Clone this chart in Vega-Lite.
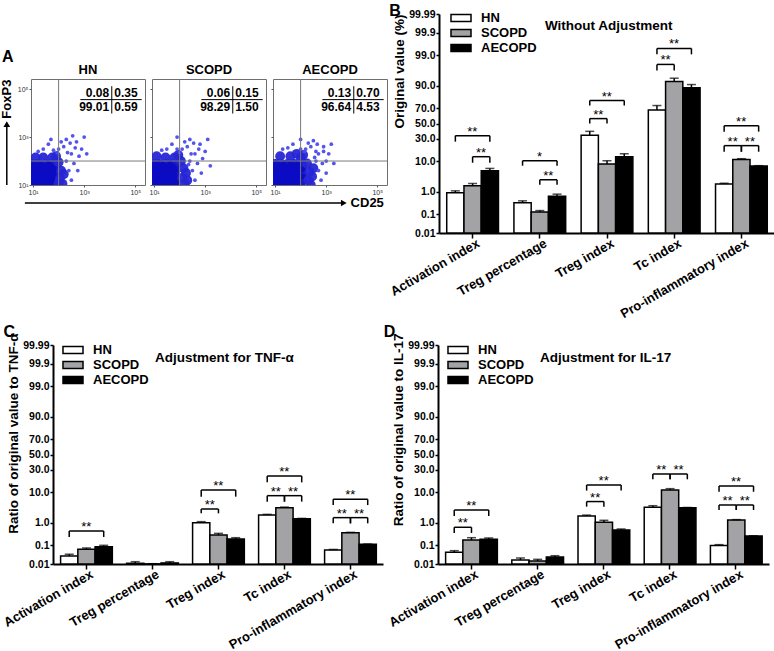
{
"$schema": "https://vega.github.io/schema/vega-lite/v6.json",
"background": "white",
"padding": {"left": 0, "top": 3, "right": 0, "bottom": 0},
"config": {"view": {"stroke": null}, "font": "Liberation Sans", "title": {"color": "black", "font": "Liberation Sans"}, "axis": {"labelFont": "Liberation Sans", "titleFont": "Liberation Sans", "labelOverlap": false}, "legend": {"labelFont": "Liberation Sans", "titleFont": "Liberation Sans"}},
"resolve": {"scale": {"fill": "independent"}, "legend": {"fill": "independent"}},
"datasets": {
"bars": [
{"panel":"B","g":"Activation index","s":"HN","v":0.93,"hi":1.11},
{"panel":"B","g":"Activation index","s":"SCOPD","v":1.72,"hi":2.08},
{"panel":"B","g":"Activation index","s":"AECOPD","v":5.43,"hi":6.35},
{"panel":"B","g":"Treg percentage","s":"HN","v":0.352,"hi":0.431},
{"panel":"B","g":"Treg percentage","s":"SCOPD","v":0.134,"hi":0.155},
{"panel":"B","g":"Treg percentage","s":"AECOPD","v":0.68,"hi":0.82},
{"panel":"B","g":"Treg index","s":"HN","v":34.4,"hi":39.5},
{"panel":"B","g":"Treg index","s":"SCOPD","v":8.44,"hi":10.3},
{"panel":"B","g":"Treg index","s":"AECOPD","v":12.97,"hi":15.2},
{"panel":"B","g":"Tc index","s":"HN","v":67.8,"hi":72.9},
{"panel":"B","g":"Tc index","s":"SCOPD","v":92.3,"hi":93.8},
{"panel":"B","g":"Tc index","s":"AECOPD","v":88.7,"hi":90.7},
{"panel":"B","g":"Pro-inflammatory index","s":"HN","v":1.98,"hi":2.12},
{"panel":"B","g":"Pro-inflammatory index","s":"SCOPD","v":11.1,"hi":11.6},
{"panel":"B","g":"Pro-inflammatory index","s":"AECOPD","v":7.43,"hi":7.6},
{"panel":"C","g":"Activation index","s":"HN","v":0.0284,"hi":0.035},
{"panel":"C","g":"Activation index","s":"SCOPD","v":0.064,"hi":0.075},
{"panel":"C","g":"Activation index","s":"AECOPD","v":0.087,"hi":0.102},
{"panel":"C","g":"Treg percentage","s":"HN","v":0.011,"hi":0.0136},
{"panel":"C","g":"Treg percentage","s":"SCOPD","v":0.0102,"hi":0.0104},
{"panel":"C","g":"Treg percentage","s":"AECOPD","v":0.0115,"hi":0.0136},
{"panel":"C","g":"Treg index","s":"HN","v":1.03,"hi":1.13},
{"panel":"C","g":"Treg index","s":"SCOPD","v":0.314,"hi":0.37},
{"panel":"C","g":"Treg index","s":"AECOPD","v":0.206,"hi":0.236},
{"panel":"C","g":"Tc index","s":"HN","v":2.0,"hi":2.1},
{"panel":"C","g":"Tc index","s":"SCOPD","v":3.55,"hi":3.7},
{"panel":"C","g":"Tc index","s":"AECOPD","v":1.46,"hi":1.5},
{"panel":"C","g":"Pro-inflammatory index","s":"HN","v":0.059,"hi":0.063},
{"panel":"C","g":"Pro-inflammatory index","s":"SCOPD","v":0.397,"hi":0.41},
{"panel":"C","g":"Pro-inflammatory index","s":"AECOPD","v":0.114,"hi":0.118},
{"panel":"D","g":"Activation index","s":"HN","v":0.0449,"hi":0.0545},
{"panel":"D","g":"Activation index","s":"SCOPD","v":0.185,"hi":0.236},
{"panel":"D","g":"Activation index","s":"AECOPD","v":0.199,"hi":0.229},
{"panel":"D","g":"Treg percentage","s":"HN","v":0.017,"hi":0.022},
{"panel":"D","g":"Treg percentage","s":"SCOPD","v":0.015,"hi":0.0185},
{"panel":"D","g":"Treg percentage","s":"AECOPD","v":0.025,"hi":0.0294},
{"panel":"D","g":"Treg index","s":"HN","v":1.84,"hi":1.98},
{"panel":"D","g":"Treg index","s":"SCOPD","v":1.07,"hi":1.27},
{"panel":"D","g":"Treg index","s":"AECOPD","v":0.52,"hi":0.57},
{"panel":"D","g":"Tc index","s":"HN","v":3.64,"hi":4.1},
{"panel":"D","g":"Tc index","s":"SCOPD","v":11.4,"hi":12.3},
{"panel":"D","g":"Tc index","s":"AECOPD","v":3.55,"hi":3.6},
{"panel":"D","g":"Pro-inflammatory index","s":"HN","v":0.1,"hi":0.11},
{"panel":"D","g":"Pro-inflammatory index","s":"SCOPD","v":1.31,"hi":1.35},
{"panel":"D","g":"Pro-inflammatory index","s":"AECOPD","v":0.283,"hi":0.29}
],
"br": [
{"panel":"B","id":"B1","g":"Activation index","s1":"HN","s2":"AECOPD","top":34.0,"leg":26.9,"lab":"**"},
{"panel":"B","id":"B2","g":"Activation index","s1":"SCOPD","s2":"AECOPD","top":12.97,"leg":9.14,"lab":"**"},
{"panel":"B","id":"B3","g":"Treg percentage","s1":"HN","s2":"AECOPD","top":10.3,"leg":7.58,"lab":"*"},
{"panel":"B","id":"B4","g":"Treg percentage","s1":"SCOPD","s2":"AECOPD","top":2.8,"leg":1.87,"lab":"**"},
{"panel":"B","id":"B5","g":"Treg index","s1":"HN","s2":"AECOPD","top":78.2,"leg":72.9,"lab":"**"},
{"panel":"B","id":"B6","g":"Treg index","s1":"HN","s2":"SCOPD","top":56.6,"leg":49.9,"lab":"**"},
{"panel":"B","id":"B7","g":"Tc index","s1":"HN","s2":"AECOPD","top":99.46,"leg":99.06,"lab":"**"},
{"panel":"B","id":"B8","g":"Tc index","s1":"HN","s2":"SCOPD","top":97.76,"leg":96.4,"lab":"**"},
{"panel":"B","id":"B9","g":"Pro-inflammatory index","s1":"HN","s2":"AECOPD","top":47.1,"leg":39.1,"lab":"**"},
{"panel":"B","id":"B10","g":"Pro-inflammatory index","s1":"HN","s2":"SCOPD","top":22.6,"leg":16.9,"lab":"**"},
{"panel":"B","id":"B11","g":"Pro-inflammatory index","s1":"SCOPD","s2":"AECOPD","top":22.6,"leg":16.9,"lab":"**"},
{"panel":"C","id":"C1","g":"Activation index","s1":"HN","s2":"AECOPD","top":0.469,"leg":0.255,"lab":"**"},
{"panel":"C","id":"C2","g":"Treg index","s1":"HN","s2":"AECOPD","top":11.4,"leg":7.6,"lab":"**"},
{"panel":"C","id":"C3","g":"Treg index","s1":"HN","s2":"SCOPD","top":3.21,"leg":2.29,"lab":"**"},
{"panel":"C","id":"C4","g":"Tc index","s1":"HN","s2":"AECOPD","top":23.3,"leg":17.2,"lab":"**"},
{"panel":"C","id":"C5","g":"Tc index","s1":"HN","s2":"SCOPD","top":8.1,"leg":5.47,"lab":"**"},
{"panel":"C","id":"C6","g":"Tc index","s1":"SCOPD","s2":"AECOPD","top":8.1,"leg":5.47,"lab":"**"},
{"panel":"C","id":"C7","g":"Pro-inflammatory index","s1":"HN","s2":"AECOPD","top":6.4,"leg":4.3,"lab":"**"},
{"panel":"C","id":"C8","g":"Pro-inflammatory index","s1":"HN","s2":"SCOPD","top":1.6,"leg":0.97,"lab":"**"},
{"panel":"C","id":"C9","g":"Pro-inflammatory index","s1":"SCOPD","s2":"AECOPD","top":1.6,"leg":0.97,"lab":"**"},
{"panel":"D","id":"D1","g":"Activation index","s1":"HN","s2":"AECOPD","top":2.97,"leg":1.84,"lab":"**"},
{"panel":"D","id":"D2","g":"Activation index","s1":"HN","s2":"SCOPD","top":0.672,"leg":0.385,"lab":"**"},
{"panel":"D","id":"D3","g":"Treg index","s1":"HN","s2":"AECOPD","top":15.0,"leg":11.0,"lab":"**"},
{"panel":"D","id":"D4","g":"Treg index","s1":"HN","s2":"SCOPD","top":5.5,"leg":3.83,"lab":"**"},
{"panel":"D","id":"D5","g":"Tc index","s1":"HN","s2":"SCOPD","top":25.4,"leg":20.0,"lab":"**"},
{"panel":"D","id":"D6","g":"Tc index","s1":"SCOPD","s2":"AECOPD","top":25.4,"leg":20.0,"lab":"**"},
{"panel":"D","id":"D7","g":"Pro-inflammatory index","s1":"HN","s2":"AECOPD","top":14.2,"leg":10.3,"lab":"**"},
{"panel":"D","id":"D8","g":"Pro-inflammatory index","s1":"HN","s2":"SCOPD","top":4.32,"leg":2.97,"lab":"**"},
{"panel":"D","id":"D9","g":"Pro-inflammatory index","s1":"SCOPD","s2":"AECOPD","top":4.32,"leg":2.97,"lab":"**"}
],
"quad": [
{"p":"HN","ul":"0.08","ur":"0.35","ll":"99.01","lr":"0.59"},
{"p":"SCOPD","ul":"0.06","ur":"0.15","ll":"98.29","lr":"1.50"},
{"p":"AECOPD","ul":"0.13","ur":"0.70","ll":"96.64","lr":"4.53"}
],
"dots": [
{"p":"HN","x":1.2,"y":1.2,"k":"c"},{"p":"HN","x":1.5,"y":1.2,"k":"c"},{"p":"HN","x":1.75,"y":1.2,"k":"c"},
{"p":"HN","x":1.2,"y":1.5,"k":"c"},{"p":"HN","x":1.5,"y":1.5,"k":"c"},{"p":"HN","x":1.75,"y":1.5,"k":"c"},
{"p":"HN","x":1.2,"y":1.8,"k":"c"},{"p":"HN","x":1.5,"y":1.8,"k":"c"},{"p":"HN","x":1.75,"y":1.8,"k":"c"},
{"p":"HN","x":1.35,"y":1.35,"k":"c"},{"p":"HN","x":1.65,"y":1.35,"k":"c"},{"p":"HN","x":1.35,"y":1.65,"k":"c"},{"p":"HN","x":1.65,"y":1.65,"k":"c"},
{"p":"HN","x":1.0,"y":1.2,"k":"c"},{"p":"HN","x":1.0,"y":1.5,"k":"c"},{"p":"HN","x":1.0,"y":1.8,"k":"c"},
{"p":"HN","x":1.2,"y":1.0,"k":"c"},{"p":"HN","x":1.5,"y":1.0,"k":"c"},{"p":"HN","x":1.75,"y":1.0,"k":"c"},
{"p":"HN","x":2.05,"y":1.25,"k":"m"},{"p":"HN","x":2.1,"y":1.6,"k":"m"},{"p":"HN","x":2.0,"y":1.95,"k":"m"},{"p":"HN","x":1.75,"y":2.15,"k":"m"},{"p":"HN","x":1.4,"y":2.15,"k":"m"},
{"p":"HN","x":1.1,"y":2.15,"k":"m"},{"p":"HN","x":2.15,"y":1.05,"k":"m"},{"p":"HN","x":2.2,"y":1.45,"k":"m"},{"p":"HN","x":1.9,"y":2.2,"k":"m"},{"p":"HN","x":2.0,"y":1.05,"k":"m"},
{"p":"HN","x":2.3,"y":2.0,"k":"s"},{"p":"HN","x":2.5,"y":2.3,"k":"s"},{"p":"HN","x":2.2,"y":2.6,"k":"s"},{"p":"HN","x":2.7,"y":2.8,"k":"s"},{"p":"HN","x":2.0,"y":2.5,"k":"s"},
{"p":"HN","x":2.4,"y":1.6,"k":"s"},{"p":"HN","x":2.6,"y":1.9,"k":"s"},{"p":"HN","x":1.8,"y":2.45,"k":"s"},{"p":"HN","x":2.9,"y":2.5,"k":"s"},{"p":"HN","x":2.3,"y":2.9,"k":"s"},
{"p":"HN","x":1.6,"y":2.7,"k":"s"},{"p":"HN","x":2.5,"y":1.2,"k":"s"},{"p":"HN","x":2.8,"y":2.2,"k":"s"},{"p":"HN","x":2.1,"y":2.8,"k":"s"},{"p":"HN","x":3.0,"y":3.0,"k":"s"},
{"p":"HN","x":1.4,"y":2.5,"k":"s"},{"p":"HN","x":2.65,"y":2.55,"k":"s"},{"p":"HN","x":2.35,"y":2.35,"k":"s"},{"p":"HN","x":1.95,"y":2.35,"k":"s"},{"p":"HN","x":2.75,"y":1.6,"k":"s"},
{"p":"HN","x":1.2,"y":2.4,"k":"s"},{"p":"HN","x":2.45,"y":2.75,"k":"s"},{"p":"HN","x":2.55,"y":3.05,"k":"s"},{"p":"HN","x":3.1,"y":2.3,"k":"s"},{"p":"HN","x":1.7,"y":2.9,"k":"s"},
{"p":"SCOPD","x":1.2,"y":1.2,"k":"c"},{"p":"SCOPD","x":1.5,"y":1.2,"k":"c"},{"p":"SCOPD","x":1.75,"y":1.2,"k":"c"},
{"p":"SCOPD","x":1.2,"y":1.5,"k":"c"},{"p":"SCOPD","x":1.5,"y":1.5,"k":"c"},{"p":"SCOPD","x":1.75,"y":1.5,"k":"c"},
{"p":"SCOPD","x":1.2,"y":1.8,"k":"c"},{"p":"SCOPD","x":1.5,"y":1.8,"k":"c"},{"p":"SCOPD","x":1.75,"y":1.8,"k":"c"},
{"p":"SCOPD","x":1.35,"y":1.35,"k":"c"},{"p":"SCOPD","x":1.65,"y":1.35,"k":"c"},{"p":"SCOPD","x":1.35,"y":1.65,"k":"c"},{"p":"SCOPD","x":1.65,"y":1.65,"k":"c"},
{"p":"SCOPD","x":1.0,"y":1.2,"k":"c"},{"p":"SCOPD","x":1.0,"y":1.5,"k":"c"},{"p":"SCOPD","x":1.0,"y":1.8,"k":"c"},
{"p":"SCOPD","x":1.2,"y":1.0,"k":"c"},{"p":"SCOPD","x":1.5,"y":1.0,"k":"c"},{"p":"SCOPD","x":1.75,"y":1.0,"k":"c"},
{"p":"SCOPD","x":2.1,"y":1.3,"k":"m"},{"p":"SCOPD","x":2.15,"y":1.7,"k":"m"},{"p":"SCOPD","x":2.05,"y":2.0,"k":"m"},{"p":"SCOPD","x":1.8,"y":2.15,"k":"m"},{"p":"SCOPD","x":1.45,"y":2.15,"k":"m"},
{"p":"SCOPD","x":1.1,"y":2.2,"k":"m"},{"p":"SCOPD","x":2.2,"y":1.05,"k":"m"},{"p":"SCOPD","x":2.25,"y":1.5,"k":"m"},{"p":"SCOPD","x":1.95,"y":2.25,"k":"m"},{"p":"SCOPD","x":2.3,"y":1.2,"k":"m"},
{"p":"SCOPD","x":2.4,"y":2.0,"k":"s"},{"p":"SCOPD","x":2.6,"y":2.3,"k":"s"},{"p":"SCOPD","x":2.3,"y":2.6,"k":"s"},{"p":"SCOPD","x":2.8,"y":2.7,"k":"s"},{"p":"SCOPD","x":2.1,"y":2.5,"k":"s"},
{"p":"SCOPD","x":2.5,"y":1.6,"k":"s"},{"p":"SCOPD","x":2.7,"y":1.9,"k":"s"},{"p":"SCOPD","x":1.9,"y":2.5,"k":"s"},{"p":"SCOPD","x":3.0,"y":2.4,"k":"s"},{"p":"SCOPD","x":2.4,"y":2.9,"k":"s"},
{"p":"SCOPD","x":1.7,"y":2.7,"k":"s"},{"p":"SCOPD","x":2.6,"y":1.2,"k":"s"},{"p":"SCOPD","x":2.9,"y":2.1,"k":"s"},{"p":"SCOPD","x":2.2,"y":2.8,"k":"s"},{"p":"SCOPD","x":3.1,"y":2.9,"k":"s"},
{"p":"SCOPD","x":1.5,"y":2.5,"k":"s"},{"p":"SCOPD","x":2.75,"y":2.5,"k":"s"},{"p":"SCOPD","x":2.45,"y":2.3,"k":"s"},{"p":"SCOPD","x":2.0,"y":2.35,"k":"s"},{"p":"SCOPD","x":2.85,"y":1.5,"k":"s"},
{"p":"SCOPD","x":1.3,"y":2.45,"k":"s"},{"p":"SCOPD","x":2.55,"y":2.75,"k":"s"},{"p":"SCOPD","x":3.2,"y":1.8,"k":"s"},{"p":"SCOPD","x":1.9,"y":3.0,"k":"s"},{"p":"SCOPD","x":2.35,"y":1.85,"k":"s"},
{"p":"AECOPD","x":1.2,"y":1.2,"k":"c"},{"p":"AECOPD","x":1.5,"y":1.2,"k":"c"},{"p":"AECOPD","x":1.75,"y":1.2,"k":"c"},
{"p":"AECOPD","x":1.2,"y":1.5,"k":"c"},{"p":"AECOPD","x":1.5,"y":1.5,"k":"c"},{"p":"AECOPD","x":1.75,"y":1.5,"k":"c"},
{"p":"AECOPD","x":1.2,"y":1.8,"k":"c"},{"p":"AECOPD","x":1.5,"y":1.8,"k":"c"},{"p":"AECOPD","x":1.75,"y":1.8,"k":"c"},
{"p":"AECOPD","x":1.35,"y":1.35,"k":"c"},{"p":"AECOPD","x":1.65,"y":1.35,"k":"c"},{"p":"AECOPD","x":1.35,"y":1.65,"k":"c"},{"p":"AECOPD","x":1.65,"y":1.65,"k":"c"},
{"p":"AECOPD","x":1.0,"y":1.2,"k":"c"},{"p":"AECOPD","x":1.0,"y":1.5,"k":"c"},{"p":"AECOPD","x":1.0,"y":1.8,"k":"c"},
{"p":"AECOPD","x":1.2,"y":1.0,"k":"c"},{"p":"AECOPD","x":1.5,"y":1.0,"k":"c"},{"p":"AECOPD","x":1.75,"y":1.0,"k":"c"},
{"p":"AECOPD","x":2.0,"y":1.2,"k":"c"},{"p":"AECOPD","x":2.0,"y":1.5,"k":"c"},{"p":"AECOPD","x":2.0,"y":1.8,"k":"c"},
{"p":"AECOPD","x":2.3,"y":1.2,"k":"m"},{"p":"AECOPD","x":2.35,"y":1.55,"k":"m"},{"p":"AECOPD","x":2.25,"y":1.9,"k":"m"},{"p":"AECOPD","x":2.0,"y":2.15,"k":"m"},{"p":"AECOPD","x":1.6,"y":2.2,"k":"m"},
{"p":"AECOPD","x":1.2,"y":2.2,"k":"m"},{"p":"AECOPD","x":2.4,"y":1.0,"k":"m"},{"p":"AECOPD","x":2.45,"y":1.35,"k":"m"},{"p":"AECOPD","x":2.1,"y":2.25,"k":"m"},{"p":"AECOPD","x":2.5,"y":1.7,"k":"m"},{"p":"AECOPD","x":1.85,"y":2.3,"k":"m"},
{"p":"AECOPD","x":2.6,"y":2.0,"k":"s"},{"p":"AECOPD","x":2.7,"y":2.3,"k":"s"},{"p":"AECOPD","x":2.4,"y":2.6,"k":"s"},{"p":"AECOPD","x":2.9,"y":2.6,"k":"s"},{"p":"AECOPD","x":2.2,"y":2.5,"k":"s"},
{"p":"AECOPD","x":2.7,"y":1.6,"k":"s"},{"p":"AECOPD","x":2.85,"y":1.9,"k":"s"},{"p":"AECOPD","x":2.0,"y":2.5,"k":"s"},{"p":"AECOPD","x":3.1,"y":2.3,"k":"s"},{"p":"AECOPD","x":2.5,"y":2.85,"k":"s"},
{"p":"AECOPD","x":1.7,"y":2.7,"k":"s"},{"p":"AECOPD","x":2.8,"y":1.2,"k":"s"},{"p":"AECOPD","x":3.0,"y":2.0,"k":"s"},{"p":"AECOPD","x":2.3,"y":2.75,"k":"s"},{"p":"AECOPD","x":3.2,"y":2.7,"k":"s"},
{"p":"AECOPD","x":1.5,"y":2.55,"k":"s"},{"p":"AECOPD","x":2.9,"y":2.4,"k":"s"},{"p":"AECOPD","x":2.6,"y":2.4,"k":"s"},{"p":"AECOPD","x":2.15,"y":2.4,"k":"s"},{"p":"AECOPD","x":3.0,"y":1.5,"k":"s"},
{"p":"AECOPD","x":1.3,"y":2.5,"k":"s"},{"p":"AECOPD","x":2.65,"y":2.7,"k":"s"},{"p":"AECOPD","x":3.3,"y":1.9,"k":"s"},{"p":"AECOPD","x":2.0,"y":2.9,"k":"s"},{"p":"AECOPD","x":2.55,"y":2.15,"k":"s"}
]
},
"spacing": 3,
"vconcat": [
{"spacing": 0, "resolve": {"scale": {"fill": "independent"}, "legend": {"fill": "independent"}}, "hconcat": [
 {"spacing": 0, "vconcat": [
  {"width": 10, "height": 35, "data": {"values": []}, "mark": "point"},
  {"title": {"text": "A", "anchor": "start", "frame": "bounds", "fontSize": 16, "fontWeight": "bold", "offset": -2, "dx": 2},
   "spacing": 1,
   "vconcat": [
    {"spacing": 2,
     "hconcat": [
      {"width": 8, "height": 106, "data": {"values": [{}]},
       "layer": [
        {"mark": {"type": "rule", "color": "black", "strokeWidth": 1.5}, "encoding": {"x": {"datum": 0.85, "type": "quantitative", "scale": {"domain": [0, 1]}, "axis": null}, "y": {"datum": 0, "type": "quantitative", "scale": {"domain": [0, 1]}, "axis": null}, "y2": {"datum": 0.56}}},
        {"mark": {"type": "point", "shape": "triangle-up", "filled": true, "color": "black", "opacity": 1, "size": 45}, "encoding": {"x": {"datum": 0.85, "type": "quantitative"}, "y": {"datum": 0.575, "type": "quantitative"}}},
        {"mark": {"type": "text", "angle": 270, "fontSize": 13, "fontWeight": "bold", "align": "center", "baseline": "middle", "color": "black"}, "encoding": {"x": {"datum": 0.85, "type": "quantitative"}, "y": {"datum": 0.81, "type": "quantitative"}, "text": {"value": "FoxP3"}}}
       ]},
      {"width": 114, "height": 106, "title": {"text": "HN", "fontSize": 13, "fontWeight": "bold", "offset": 2},
       "view": {"stroke": "#6e6e6e", "strokeWidth": 1},
       "layer": [
        {"data": {"name": "dots"}, "transform": [{"filter": "datum.p=='HN'"}],
         "mark": {"type": "circle", "clip": true, "opacity": 0.95},
         "encoding": {
          "x": {"field": "x", "type": "quantitative", "title": null, "scale": {"domain": [0.92, 5.38], "nice": false, "zero": false},
                "axis": {"values": [1,2,3,4,5], "labelExpr": "'10' + (datum.value == 1 ? '¹' : datum.value == 2 ? '²' : datum.value == 3 ? '³' : datum.value == 4 ? '⁴' : '⁵')", "labelFontSize": 7, "labelColor": "#333333", "tickSize": 2, "tickColor": "#555555", "domain": false, "grid": false, "labelPadding": 1}},
          "y": {"field": "y", "type": "quantitative", "title": null, "scale": {"domain": [1, 5.42], "nice": false, "zero": false},
                "axis": {"values": [1,2,3,4,5], "labelExpr": "'10' + (datum.value == 1 ? '¹' : datum.value == 2 ? '²' : datum.value == 3 ? '³' : datum.value == 4 ? '⁴' : '⁵')", "labelFontSize": 7, "labelColor": "#333333", "tickSize": 2, "tickColor": "#555555", "domain": false, "grid": false, "labelPadding": 1}},
          "size": {"field": "k", "type": "nominal", "scale": {"domain": ["c","m","s"], "range": [180, 14, 3]}, "legend": null},
          "color": {"field": "k", "type": "nominal", "scale": {"domain": ["c","m","s"], "range": ["#0c0cc4", "#2626d6", "#4a4aee"]}, "legend": null}
         }},
        {"data": {"name": "quad"}, "transform": [{"filter": "datum.p=='HN'"}], "mark": {"type": "rule", "color": "#7a7a7a", "strokeWidth": 1}, "encoding": {"x": {"datum": 2}}},
        {"data": {"name": "quad"}, "transform": [{"filter": "datum.p=='HN'"}], "mark": {"type": "rule", "color": "#7a7a7a", "strokeWidth": 1}, "encoding": {"y": {"datum": 2}}},
        {"data": {"name": "quad"}, "transform": [{"filter": "datum.p=='HN'"}], "mark": {"type": "rule", "color": "black", "strokeWidth": 1}, "encoding": {"x": {"datum": 2.85}, "x2": {"datum": 5.25}, "y": {"datum": 4.56}}},
        {"data": {"name": "quad"}, "transform": [{"filter": "datum.p=='HN'"}], "mark": {"type": "rule", "color": "black", "strokeWidth": 1}, "encoding": {"x": {"datum": 4.08}, "y": {"datum": 3.98}, "y2": {"datum": 5.12}}},
        {"data": {"name": "quad"}, "transform": [{"filter": "datum.p=='HN'"}], "mark": {"type": "text", "align": "right", "baseline": "middle", "fontSize": 12, "fontWeight": "bold"}, "encoding": {"x": {"datum": 3.98}, "y": {"datum": 4.84}, "text": {"field": "ul"}}},
        {"data": {"name": "quad"}, "transform": [{"filter": "datum.p=='HN'"}], "mark": {"type": "text", "align": "left", "baseline": "middle", "fontSize": 12, "fontWeight": "bold"}, "encoding": {"x": {"datum": 4.18}, "y": {"datum": 4.84}, "text": {"field": "ur"}}},
        {"data": {"name": "quad"}, "transform": [{"filter": "datum.p=='HN'"}], "mark": {"type": "text", "align": "right", "baseline": "middle", "fontSize": 12, "fontWeight": "bold"}, "encoding": {"x": {"datum": 3.98}, "y": {"datum": 4.25}, "text": {"field": "ll"}}},
        {"data": {"name": "quad"}, "transform": [{"filter": "datum.p=='HN'"}], "mark": {"type": "text", "align": "left", "baseline": "middle", "fontSize": 12, "fontWeight": "bold"}, "encoding": {"x": {"datum": 4.18}, "y": {"datum": 4.25}, "text": {"field": "lr"}}}
       ]},
      {"width": 114, "height": 106, "title": {"text": "SCOPD", "fontSize": 13, "fontWeight": "bold", "offset": 2},
       "view": {"stroke": "#6e6e6e", "strokeWidth": 1},
       "layer": [
        {"data": {"name": "dots"}, "transform": [{"filter": "datum.p=='SCOPD'"}],
         "mark": {"type": "circle", "clip": true, "opacity": 0.95},
         "encoding": {
          "x": {"field": "x", "type": "quantitative", "title": null, "scale": {"domain": [0.92, 5.38], "nice": false, "zero": false},
                "axis": {"values": [1,2,3,4,5], "labelExpr": "'10' + (datum.value == 1 ? '¹' : datum.value == 2 ? '²' : datum.value == 3 ? '³' : datum.value == 4 ? '⁴' : '⁵')", "labelFontSize": 7, "labelColor": "#333333", "tickSize": 2, "tickColor": "#555555", "domain": false, "grid": false, "labelPadding": 1}},
          "y": {"field": "y", "type": "quantitative", "title": null, "scale": {"domain": [1, 5.42], "nice": false, "zero": false},
                "axis": {"values": [1,2,3,4,5], "labels": false, "tickSize": 2, "tickColor": "#555555", "domain": false, "grid": false}},
          "size": {"field": "k", "type": "nominal", "scale": {"domain": ["c","m","s"], "range": [180, 14, 3]}, "legend": null},
          "color": {"field": "k", "type": "nominal", "scale": {"domain": ["c","m","s"], "range": ["#0c0cc4", "#2626d6", "#4a4aee"]}, "legend": null}
         }},
        {"data": {"name": "quad"}, "transform": [{"filter": "datum.p=='SCOPD'"}], "mark": {"type": "rule", "color": "#7a7a7a", "strokeWidth": 1}, "encoding": {"x": {"datum": 2}}},
        {"data": {"name": "quad"}, "transform": [{"filter": "datum.p=='SCOPD'"}], "mark": {"type": "rule", "color": "#7a7a7a", "strokeWidth": 1}, "encoding": {"y": {"datum": 2}}},
        {"data": {"name": "quad"}, "transform": [{"filter": "datum.p=='SCOPD'"}], "mark": {"type": "rule", "color": "black", "strokeWidth": 1}, "encoding": {"x": {"datum": 2.85}, "x2": {"datum": 5.25}, "y": {"datum": 4.56}}},
        {"data": {"name": "quad"}, "transform": [{"filter": "datum.p=='SCOPD'"}], "mark": {"type": "rule", "color": "black", "strokeWidth": 1}, "encoding": {"x": {"datum": 4.08}, "y": {"datum": 3.98}, "y2": {"datum": 5.12}}},
        {"data": {"name": "quad"}, "transform": [{"filter": "datum.p=='SCOPD'"}], "mark": {"type": "text", "align": "right", "baseline": "middle", "fontSize": 12, "fontWeight": "bold"}, "encoding": {"x": {"datum": 3.98}, "y": {"datum": 4.84}, "text": {"field": "ul"}}},
        {"data": {"name": "quad"}, "transform": [{"filter": "datum.p=='SCOPD'"}], "mark": {"type": "text", "align": "left", "baseline": "middle", "fontSize": 12, "fontWeight": "bold"}, "encoding": {"x": {"datum": 4.18}, "y": {"datum": 4.84}, "text": {"field": "ur"}}},
        {"data": {"name": "quad"}, "transform": [{"filter": "datum.p=='SCOPD'"}], "mark": {"type": "text", "align": "right", "baseline": "middle", "fontSize": 12, "fontWeight": "bold"}, "encoding": {"x": {"datum": 3.98}, "y": {"datum": 4.25}, "text": {"field": "ll"}}},
        {"data": {"name": "quad"}, "transform": [{"filter": "datum.p=='SCOPD'"}], "mark": {"type": "text", "align": "left", "baseline": "middle", "fontSize": 12, "fontWeight": "bold"}, "encoding": {"x": {"datum": 4.18}, "y": {"datum": 4.25}, "text": {"field": "lr"}}}
       ]},
      {"width": 114, "height": 106, "title": {"text": "AECOPD", "fontSize": 13, "fontWeight": "bold", "offset": 2},
       "view": {"stroke": "#6e6e6e", "strokeWidth": 1},
       "layer": [
        {"data": {"name": "dots"}, "transform": [{"filter": "datum.p=='AECOPD'"}],
         "mark": {"type": "circle", "clip": true, "opacity": 0.95},
         "encoding": {
          "x": {"field": "x", "type": "quantitative", "title": null, "scale": {"domain": [0.92, 5.38], "nice": false, "zero": false},
                "axis": {"values": [1,2,3,4,5], "labelExpr": "'10' + (datum.value == 1 ? '¹' : datum.value == 2 ? '²' : datum.value == 3 ? '³' : datum.value == 4 ? '⁴' : '⁵')", "labelFontSize": 7, "labelColor": "#333333", "tickSize": 2, "tickColor": "#555555", "domain": false, "grid": false, "labelPadding": 1}},
          "y": {"field": "y", "type": "quantitative", "title": null, "scale": {"domain": [1, 5.42], "nice": false, "zero": false},
                "axis": {"values": [1,2,3,4,5], "labels": false, "tickSize": 2, "tickColor": "#555555", "domain": false, "grid": false}},
          "size": {"field": "k", "type": "nominal", "scale": {"domain": ["c","m","s"], "range": [180, 14, 3]}, "legend": null},
          "color": {"field": "k", "type": "nominal", "scale": {"domain": ["c","m","s"], "range": ["#0c0cc4", "#2626d6", "#4a4aee"]}, "legend": null}
         }},
        {"data": {"name": "quad"}, "transform": [{"filter": "datum.p=='AECOPD'"}], "mark": {"type": "rule", "color": "#7a7a7a", "strokeWidth": 1}, "encoding": {"x": {"datum": 2}}},
        {"data": {"name": "quad"}, "transform": [{"filter": "datum.p=='AECOPD'"}], "mark": {"type": "rule", "color": "#7a7a7a", "strokeWidth": 1}, "encoding": {"y": {"datum": 2}}},
        {"data": {"name": "quad"}, "transform": [{"filter": "datum.p=='AECOPD'"}], "mark": {"type": "rule", "color": "black", "strokeWidth": 1}, "encoding": {"x": {"datum": 2.85}, "x2": {"datum": 5.25}, "y": {"datum": 4.56}}},
        {"data": {"name": "quad"}, "transform": [{"filter": "datum.p=='AECOPD'"}], "mark": {"type": "rule", "color": "black", "strokeWidth": 1}, "encoding": {"x": {"datum": 4.08}, "y": {"datum": 3.98}, "y2": {"datum": 5.12}}},
        {"data": {"name": "quad"}, "transform": [{"filter": "datum.p=='AECOPD'"}], "mark": {"type": "text", "align": "right", "baseline": "middle", "fontSize": 12, "fontWeight": "bold"}, "encoding": {"x": {"datum": 3.98}, "y": {"datum": 4.84}, "text": {"field": "ul"}}},
        {"data": {"name": "quad"}, "transform": [{"filter": "datum.p=='AECOPD'"}], "mark": {"type": "text", "align": "left", "baseline": "middle", "fontSize": 12, "fontWeight": "bold"}, "encoding": {"x": {"datum": 4.18}, "y": {"datum": 4.84}, "text": {"field": "ur"}}},
        {"data": {"name": "quad"}, "transform": [{"filter": "datum.p=='AECOPD'"}], "mark": {"type": "text", "align": "right", "baseline": "middle", "fontSize": 12, "fontWeight": "bold"}, "encoding": {"x": {"datum": 3.98}, "y": {"datum": 4.25}, "text": {"field": "ll"}}},
        {"data": {"name": "quad"}, "transform": [{"filter": "datum.p=='AECOPD'"}], "mark": {"type": "text", "align": "left", "baseline": "middle", "fontSize": 12, "fontWeight": "bold"}, "encoding": {"x": {"datum": 4.18}, "y": {"datum": 4.25}, "text": {"field": "lr"}}}
       ]}
     ]},
    {"width": 377, "height": 10, "data": {"values": [{}]},
     "layer": [
      {"mark": {"type": "rule", "color": "black", "strokeWidth": 1.5}, "encoding": {"x": {"datum": 0.066, "type": "quantitative", "scale": {"domain": [0, 1]}, "axis": null}, "x2": {"datum": 0.905}, "y": {"datum": 0.5, "type": "quantitative", "scale": {"domain": [0, 1]}, "axis": null}}},
      {"mark": {"type": "point", "shape": "triangle-right", "filled": true, "color": "black", "opacity": 1, "size": 45}, "encoding": {"x": {"datum": 0.912, "type": "quantitative"}, "y": {"datum": 0.5, "type": "quantitative"}}},
      {"mark": {"type": "text", "fontSize": 13, "fontWeight": "bold", "align": "left", "baseline": "middle", "color": "black"}, "encoding": {"x": {"datum": 0.93, "type": "quantitative"}, "y": {"datum": 0.5, "type": "quantitative"}, "text": {"value": "CD25"}}}
     ]}
   ]}
 ]},
 {"title": {"text": "B", "anchor": "start", "frame": "bounds", "fontSize": 16, "fontWeight": "bold", "offset": -10, "dx": 1},
  "width": 336, "height": 219,
  "layer": [
   {"data": {"name": "bars"}, "transform": [{"filter": "datum.panel=='B'"}, {"calculate": "quantileNormal(datum.v/100)", "as": "z"}],
    "mark": {"type": "bar", "stroke": "black", "strokeWidth": 1.5},
    "encoding": {
     "x": {"field": "g", "type": "nominal", "title": null, "scale": {"domain": ["Activation index","Treg percentage","Treg index","Tc index","Pro-inflammatory index"], "paddingInner": 0.23, "paddingOuter": 0.115},
           "axis": {"labelAngle": -30, "labelAlign": "right", "labelBaseline": "middle", "labelOffset": 6, "labelFontSize": 13, "labelFontWeight": "bold", "labelColor": "black", "labelPadding": 4, "labelOverlap": false, "labelLimit": 300, "tickSize": 5, "tickWidth": 1.5, "tickColor": "black", "domainColor": "black", "domainWidth": 2}},
     "xOffset": {"field": "s", "type": "nominal", "scale": {"domain": ["HN","SCOPD","AECOPD"], "paddingInner": 0, "paddingOuter": 0}},
     "y": {"field": "z", "type": "quantitative", "scale": {"domain": [-3.719, 3.719], "nice": false, "zero": false},
           "axis": {"values": [-3.719,-3.0902,-2.3263,-1.2816,-0.5244,0,0.5244,1.2816,2.3263,3.0902,3.719], "tickCount": 20, "labelExpr": "datum.value > 3.5 ? '99.99' : datum.value > 3 ? '99.9' : datum.value > 2 ? '99.0' : datum.value > 1 ? '90.0' : datum.value > 0.3 ? '70.0' : datum.value > -0.3 ? '50.0' : datum.value > -1 ? '30.0' : datum.value > -2 ? '10.0' : datum.value > -2.8 ? '1.0' : datum.value > -3.5 ? '0.1' : '0.01'", "labelOverlap": false, "title": "Original value (%)", "titleAnchor": "end", "titleFontSize": 13.5, "titleFontWeight": "bold", "titleColor": "black", "titlePadding": 2, "labelFontSize": 10.5, "labelFontWeight": "bold", "labelColor": "black", "labelPadding": 1, "tickSize": 3, "tickWidth": 1.5, "tickColor": "black", "domainColor": "black", "domainWidth": 2, "grid": false}},
     "y2": {"datum": -3.719},
     "fill": {"field": "s", "type": "nominal", "scale": {"domain": ["HN","SCOPD","AECOPD"], "range": ["#ffffff","#a3a3a6","#000000"]},
              "legend": {"orient": "none", "legendX": 14, "legendY": -4, "direction": "vertical", "title": "Without Adjustment", "titleOrient": "right", "titleAnchor": "middle", "titleBaseline": "bottom", "titleFontSize": 13.5, "titleFontWeight": "bold", "titleColor": "black", "titlePadding": 8, "titleLimit": 300, "labelFontSize": 13, "labelFontWeight": "bold", "labelColor": "black", "labelOffset": 12, "symbolType": "M-1.43,-0.5H1.43V0.5H-1.43Z", "symbolSize": 196, "symbolStrokeColor": "black", "symbolStrokeWidth": 1.5, "rowPadding": 0, "labelLimit": 200}}
    }},
   {"data": {"name": "bars"}, "transform": [{"filter": "datum.panel=='B'"}, {"calculate": "quantileNormal(datum.v/100)", "as": "z"}, {"calculate": "quantileNormal(datum.hi/100)", "as": "zh"}],
    "mark": {"type": "rule", "color": "black", "strokeWidth": 1.5},
    "encoding": {"x": {"field": "g", "type": "nominal"}, "xOffset": {"field": "s", "type": "nominal"}, "y": {"field": "z", "type": "quantitative"}, "y2": {"field": "zh"}}},
   {"data": {"name": "bars"}, "transform": [{"filter": "datum.panel=='B'"}, {"calculate": "quantileNormal(datum.hi/100)", "as": "zh"}],
    "mark": {"type": "tick", "color": "black", "thickness": 1.5, "size": 9},
    "encoding": {"x": {"field": "g", "type": "nominal"}, "xOffset": {"field": "s", "type": "nominal"}, "y": {"field": "zh", "type": "quantitative"}}},
   {"data": {"name": "br"}, "transform": [{"filter": "datum.panel=='B'"}, {"calculate": "quantileNormal(datum.top/100)", "as": "zt"}, {"calculate": "quantileNormal(datum.leg/100)", "as": "zl"}, {"fold": ["s1","s2"]}],
    "mark": {"type": "line", "color": "black", "strokeWidth": 1.5},
    "encoding": {"x": {"field": "g", "type": "nominal"}, "xOffset": {"field": "value", "type": "nominal"}, "y": {"field": "zt", "type": "quantitative"}, "detail": {"field": "id"}}},
   {"data": {"name": "br"}, "transform": [{"filter": "datum.panel=='B'"}, {"calculate": "quantileNormal(datum.top/100)", "as": "zt"}, {"calculate": "quantileNormal(datum.leg/100)", "as": "zl"}, {"fold": ["s1","s2"]}],
    "mark": {"type": "rule", "color": "black", "strokeWidth": 1.5},
    "encoding": {"x": {"field": "g", "type": "nominal"}, "xOffset": {"field": "value", "type": "nominal"}, "y": {"field": "zt", "type": "quantitative"}, "y2": {"field": "zl"}}},
   {"data": {"name": "br"}, "transform": [{"filter": "datum.panel=='B' && datum.s1=='HN' && datum.s2=='AECOPD'"}, {"calculate": "quantileNormal(datum.top/100)", "as": "zt"}],
    "mark": {"type": "text", "color": "black", "fontSize": 13, "baseline": "alphabetic", "dx": 17},
    "encoding": {"x": {"field": "g", "type": "nominal"}, "xOffset": {"field": "s1", "type": "nominal"}, "y": {"field": "zt", "type": "quantitative"}, "text": {"field": "lab"}}},
   {"data": {"name": "br"}, "transform": [{"filter": "datum.panel=='B' && !(datum.s1=='HN' && datum.s2=='AECOPD')"}, {"calculate": "quantileNormal(datum.top/100)", "as": "zt"}],
    "mark": {"type": "text", "color": "black", "fontSize": 13, "baseline": "alphabetic", "dx": 8.5},
    "encoding": {"x": {"field": "g", "type": "nominal"}, "xOffset": {"field": "s1", "type": "nominal"}, "y": {"field": "zt", "type": "quantitative"}, "text": {"field": "lab"}}}
  ]}
]},
{"spacing": 0, "resolve": {"scale": {"fill": "independent"}, "legend": {"fill": "independent"}}, "hconcat": [
 {"width": 1, "height": 10, "data": {"values": []}, "mark": "point"},
 {"title": {"text": "C", "anchor": "start", "frame": "bounds", "fontSize": 16, "fontWeight": "bold", "offset": -7, "dx": 2},
  "width": 330, "height": 219,
  "layer": [
   {"data": {"name": "bars"}, "transform": [{"filter": "datum.panel=='C'"}, {"calculate": "quantileNormal(datum.v/100)", "as": "z"}],
    "mark": {"type": "bar", "stroke": "black", "strokeWidth": 1.5},
    "encoding": {
     "x": {"field": "g", "type": "nominal", "title": null, "scale": {"domain": ["Activation index","Treg percentage","Treg index","Tc index","Pro-inflammatory index"], "paddingInner": 0.23, "paddingOuter": 0.115},
           "axis": {"labelAngle": -30, "labelAlign": "right", "labelBaseline": "middle", "labelOffset": 6, "labelFontSize": 13, "labelFontWeight": "bold", "labelColor": "black", "labelPadding": 4, "labelOverlap": false, "labelLimit": 300, "tickSize": 5, "tickWidth": 1.5, "tickColor": "black", "domainColor": "black", "domainWidth": 2}},
     "xOffset": {"field": "s", "type": "nominal", "scale": {"domain": ["HN","SCOPD","AECOPD"], "paddingInner": 0, "paddingOuter": 0}},
     "y": {"field": "z", "type": "quantitative", "scale": {"domain": [-3.719, 3.719], "nice": false, "zero": false},
           "axis": {"values": [-3.719,-3.0902,-2.3263,-1.2816,-0.5244,0,0.5244,1.2816,2.3263,3.0902,3.719], "tickCount": 20, "labelExpr": "datum.value > 3.5 ? '99.99' : datum.value > 3 ? '99.9' : datum.value > 2 ? '99.0' : datum.value > 1 ? '90.0' : datum.value > 0.3 ? '70.0' : datum.value > -0.3 ? '50.0' : datum.value > -1 ? '30.0' : datum.value > -2 ? '10.0' : datum.value > -2.8 ? '1.0' : datum.value > -3.5 ? '0.1' : '0.01'", "labelOverlap": false, "title": "Ratio of original value to TNF-α", "titleAnchor": "end", "titleY": -12, "titleFontSize": 13.5, "titleFontWeight": "bold", "titleColor": "black", "titlePadding": 2, "labelFontSize": 10.5, "labelFontWeight": "bold", "labelColor": "black", "labelPadding": 1, "tickSize": 3, "tickWidth": 1.5, "tickColor": "black", "domainColor": "black", "domainWidth": 2, "grid": false}},
     "y2": {"datum": -3.719},
     "fill": {"field": "s", "type": "nominal", "scale": {"domain": ["HN","SCOPD","AECOPD"], "range": ["#ffffff","#a3a3a6","#000000"]},
              "legend": {"orient": "none", "legendX": 12, "legendY": -3, "direction": "vertical", "title": "Adjustment for TNF-α", "titleOrient": "right", "titleAnchor": "middle", "titleBaseline": "bottom", "titleFontSize": 13.5, "titleFontWeight": "bold", "titleColor": "black", "titlePadding": 6, "titleLimit": 300, "labelFontSize": 13, "labelFontWeight": "bold", "labelColor": "black", "labelOffset": 12, "symbolType": "M-1.43,-0.5H1.43V0.5H-1.43Z", "symbolSize": 196, "symbolStrokeColor": "black", "symbolStrokeWidth": 1.5, "rowPadding": 0, "labelLimit": 200}}
    }},
   {"data": {"name": "bars"}, "transform": [{"filter": "datum.panel=='C'"}, {"calculate": "quantileNormal(datum.v/100)", "as": "z"}, {"calculate": "quantileNormal(datum.hi/100)", "as": "zh"}],
    "mark": {"type": "rule", "color": "black", "strokeWidth": 1.5},
    "encoding": {"x": {"field": "g", "type": "nominal"}, "xOffset": {"field": "s", "type": "nominal"}, "y": {"field": "z", "type": "quantitative"}, "y2": {"field": "zh"}}},
   {"data": {"name": "bars"}, "transform": [{"filter": "datum.panel=='C'"}, {"calculate": "quantileNormal(datum.hi/100)", "as": "zh"}],
    "mark": {"type": "tick", "color": "black", "thickness": 1.5, "size": 9},
    "encoding": {"x": {"field": "g", "type": "nominal"}, "xOffset": {"field": "s", "type": "nominal"}, "y": {"field": "zh", "type": "quantitative"}}},
   {"data": {"name": "br"}, "transform": [{"filter": "datum.panel=='C'"}, {"calculate": "quantileNormal(datum.top/100)", "as": "zt"}, {"calculate": "quantileNormal(datum.leg/100)", "as": "zl"}, {"fold": ["s1","s2"]}],
    "mark": {"type": "line", "color": "black", "strokeWidth": 1.5},
    "encoding": {"x": {"field": "g", "type": "nominal"}, "xOffset": {"field": "value", "type": "nominal"}, "y": {"field": "zt", "type": "quantitative"}, "detail": {"field": "id"}}},
   {"data": {"name": "br"}, "transform": [{"filter": "datum.panel=='C'"}, {"calculate": "quantileNormal(datum.top/100)", "as": "zt"}, {"calculate": "quantileNormal(datum.leg/100)", "as": "zl"}, {"fold": ["s1","s2"]}],
    "mark": {"type": "rule", "color": "black", "strokeWidth": 1.5},
    "encoding": {"x": {"field": "g", "type": "nominal"}, "xOffset": {"field": "value", "type": "nominal"}, "y": {"field": "zt", "type": "quantitative"}, "y2": {"field": "zl"}}},
   {"data": {"name": "br"}, "transform": [{"filter": "datum.panel=='C' && datum.s1=='HN' && datum.s2=='AECOPD'"}, {"calculate": "quantileNormal(datum.top/100)", "as": "zt"}],
    "mark": {"type": "text", "color": "black", "fontSize": 13, "baseline": "alphabetic", "dx": 17},
    "encoding": {"x": {"field": "g", "type": "nominal"}, "xOffset": {"field": "s1", "type": "nominal"}, "y": {"field": "zt", "type": "quantitative"}, "text": {"field": "lab"}}},
   {"data": {"name": "br"}, "transform": [{"filter": "datum.panel=='C' && !(datum.s1=='HN' && datum.s2=='AECOPD')"}, {"calculate": "quantileNormal(datum.top/100)", "as": "zt"}],
    "mark": {"type": "text", "color": "black", "fontSize": 13, "baseline": "alphabetic", "dx": 8.5},
    "encoding": {"x": {"field": "g", "type": "nominal"}, "xOffset": {"field": "s1", "type": "nominal"}, "y": {"field": "zt", "type": "quantitative"}, "text": {"field": "lab"}}}
  ]},
 {"title": {"text": "D", "anchor": "start", "frame": "bounds", "fontSize": 16, "fontWeight": "bold", "offset": -7, "dx": -3},
  "width": 331, "height": 219,
  "layer": [
   {"data": {"name": "bars"}, "transform": [{"filter": "datum.panel=='D'"}, {"calculate": "quantileNormal(datum.v/100)", "as": "z"}],
    "mark": {"type": "bar", "stroke": "black", "strokeWidth": 1.5},
    "encoding": {
     "x": {"field": "g", "type": "nominal", "title": null, "scale": {"domain": ["Activation index","Treg percentage","Treg index","Tc index","Pro-inflammatory index"], "paddingInner": 0.23, "paddingOuter": 0.115},
           "axis": {"labelAngle": -30, "labelAlign": "right", "labelBaseline": "middle", "labelOffset": 6, "labelFontSize": 13, "labelFontWeight": "bold", "labelColor": "black", "labelPadding": 4, "labelOverlap": false, "labelLimit": 300, "tickSize": 5, "tickWidth": 1.5, "tickColor": "black", "domainColor": "black", "domainWidth": 2}},
     "xOffset": {"field": "s", "type": "nominal", "scale": {"domain": ["HN","SCOPD","AECOPD"], "paddingInner": 0, "paddingOuter": 0}},
     "y": {"field": "z", "type": "quantitative", "scale": {"domain": [-3.719, 3.719], "nice": false, "zero": false},
           "axis": {"values": [-3.719,-3.0902,-2.3263,-1.2816,-0.5244,0,0.5244,1.2816,2.3263,3.0902,3.719], "tickCount": 20, "labelExpr": "datum.value > 3.5 ? '99.99' : datum.value > 3 ? '99.9' : datum.value > 2 ? '99.0' : datum.value > 1 ? '90.0' : datum.value > 0.3 ? '70.0' : datum.value > -0.3 ? '50.0' : datum.value > -1 ? '30.0' : datum.value > -2 ? '10.0' : datum.value > -2.8 ? '1.0' : datum.value > -3.5 ? '0.1' : '0.01'", "labelOverlap": false, "title": "Ratio of original value to IL-17", "titleAnchor": "end", "titleY": -12, "titleFontSize": 13.5, "titleFontWeight": "bold", "titleColor": "black", "titlePadding": 2, "labelFontSize": 10.5, "labelFontWeight": "bold", "labelColor": "black", "labelPadding": 1, "tickSize": 3, "tickWidth": 1.5, "tickColor": "black", "domainColor": "black", "domainWidth": 2, "grid": false}},
     "y2": {"datum": -3.719},
     "fill": {"field": "s", "type": "nominal", "scale": {"domain": ["HN","SCOPD","AECOPD"], "range": ["#ffffff","#a3a3a6","#000000"]},
              "legend": {"orient": "none", "legendX": 12, "legendY": -3, "direction": "vertical", "title": "Adjustment for IL-17", "titleOrient": "right", "titleAnchor": "middle", "titleBaseline": "bottom", "titleFontSize": 13.5, "titleFontWeight": "bold", "titleColor": "black", "titlePadding": 6, "titleLimit": 300, "labelFontSize": 13, "labelFontWeight": "bold", "labelColor": "black", "labelOffset": 12, "symbolType": "M-1.43,-0.5H1.43V0.5H-1.43Z", "symbolSize": 196, "symbolStrokeColor": "black", "symbolStrokeWidth": 1.5, "rowPadding": 0, "labelLimit": 200}}
    }},
   {"data": {"name": "bars"}, "transform": [{"filter": "datum.panel=='D'"}, {"calculate": "quantileNormal(datum.v/100)", "as": "z"}, {"calculate": "quantileNormal(datum.hi/100)", "as": "zh"}],
    "mark": {"type": "rule", "color": "black", "strokeWidth": 1.5},
    "encoding": {"x": {"field": "g", "type": "nominal"}, "xOffset": {"field": "s", "type": "nominal"}, "y": {"field": "z", "type": "quantitative"}, "y2": {"field": "zh"}}},
   {"data": {"name": "bars"}, "transform": [{"filter": "datum.panel=='D'"}, {"calculate": "quantileNormal(datum.hi/100)", "as": "zh"}],
    "mark": {"type": "tick", "color": "black", "thickness": 1.5, "size": 9},
    "encoding": {"x": {"field": "g", "type": "nominal"}, "xOffset": {"field": "s", "type": "nominal"}, "y": {"field": "zh", "type": "quantitative"}}},
   {"data": {"name": "br"}, "transform": [{"filter": "datum.panel=='D'"}, {"calculate": "quantileNormal(datum.top/100)", "as": "zt"}, {"calculate": "quantileNormal(datum.leg/100)", "as": "zl"}, {"fold": ["s1","s2"]}],
    "mark": {"type": "line", "color": "black", "strokeWidth": 1.5},
    "encoding": {"x": {"field": "g", "type": "nominal"}, "xOffset": {"field": "value", "type": "nominal"}, "y": {"field": "zt", "type": "quantitative"}, "detail": {"field": "id"}}},
   {"data": {"name": "br"}, "transform": [{"filter": "datum.panel=='D'"}, {"calculate": "quantileNormal(datum.top/100)", "as": "zt"}, {"calculate": "quantileNormal(datum.leg/100)", "as": "zl"}, {"fold": ["s1","s2"]}],
    "mark": {"type": "rule", "color": "black", "strokeWidth": 1.5},
    "encoding": {"x": {"field": "g", "type": "nominal"}, "xOffset": {"field": "value", "type": "nominal"}, "y": {"field": "zt", "type": "quantitative"}, "y2": {"field": "zl"}}},
   {"data": {"name": "br"}, "transform": [{"filter": "datum.panel=='D' && datum.s1=='HN' && datum.s2=='AECOPD'"}, {"calculate": "quantileNormal(datum.top/100)", "as": "zt"}],
    "mark": {"type": "text", "color": "black", "fontSize": 13, "baseline": "alphabetic", "dx": 17},
    "encoding": {"x": {"field": "g", "type": "nominal"}, "xOffset": {"field": "s1", "type": "nominal"}, "y": {"field": "zt", "type": "quantitative"}, "text": {"field": "lab"}}},
   {"data": {"name": "br"}, "transform": [{"filter": "datum.panel=='D' && !(datum.s1=='HN' && datum.s2=='AECOPD')"}, {"calculate": "quantileNormal(datum.top/100)", "as": "zt"}],
    "mark": {"type": "text", "color": "black", "fontSize": 13, "baseline": "alphabetic", "dx": 8.5},
    "encoding": {"x": {"field": "g", "type": "nominal"}, "xOffset": {"field": "s1", "type": "nominal"}, "y": {"field": "zt", "type": "quantitative"}, "text": {"field": "lab"}}}
  ]}
]}
]
}
